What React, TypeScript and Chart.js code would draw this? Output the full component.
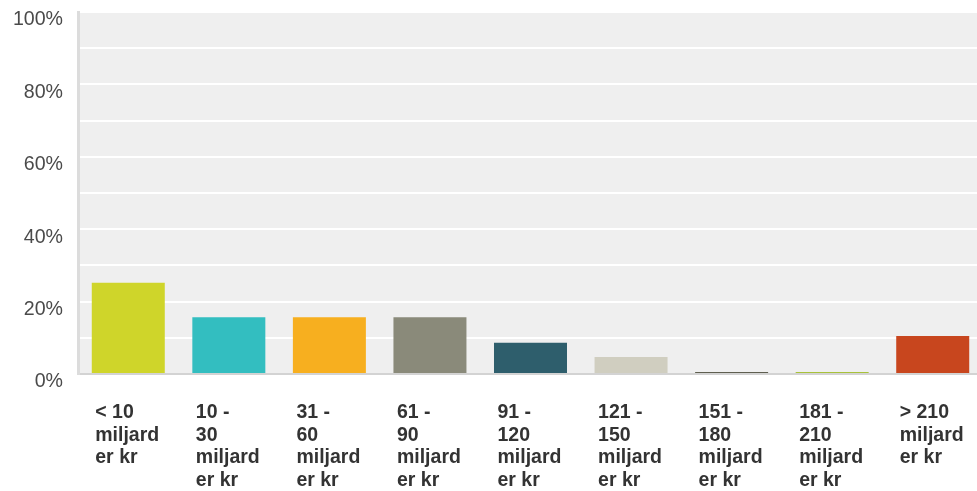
import { useEffect, useRef } from "react";
import { Chart, registerables } from "chart.js";

Chart.register(...registerables);

const categories: string[][] = [
  ["< 10", "miljard", "er kr"],
  ["10 -", "30", "miljard", "er kr"],
  ["31 -", "60", "miljard", "er kr"],
  ["61 -", "90", "miljard", "er kr"],
  ["91 -", "120", "miljard", "er kr"],
  ["121 -", "150", "miljard", "er kr"],
  ["151 -", "180", "miljard", "er kr"],
  ["181 -", "210", "miljard", "er kr"],
  ["> 210", "miljard", "er kr"],
];
const values = [25.2, 15.7, 15.7, 15.7, 8.6, 4.7, 0.55, 0.55, 10.5];
const barColors = [
  "#CFD52A",
  "#33BEC0",
  "#F7AF1F",
  "#8A8A7A",
  "#2E5E6C",
  "#D0CEC0",
  "#5F5F50",
  "#A8C23A",
  "#C8461E",
];
const yLabelEvery = 20;

const bgPlugin = {
  id: "plotBg",
  beforeDraw(chart: any) {
    const { ctx, chartArea: a } = chart;
    ctx.save();
    ctx.fillStyle = "#efefef";
    ctx.fillRect(a.left, a.top - 1, a.right - a.left, a.bottom - a.top + 1);
    ctx.restore();
  },
};

export default function App() {
  const ref = useRef<HTMLCanvasElement | null>(null);
  useEffect(() => {
    if (!ref.current) return;
    const chart = new Chart(ref.current, {
      type: "bar",
      data: {
        labels: categories,
        datasets: [
          {
            data: values,
            backgroundColor: barColors,
            barPercentage: 0.726,
            categoryPercentage: 1,
          },
        ],
      },
      options: {
        animation: false,
        responsive: true,
        maintainAspectRatio: false,
        layout: { padding: { top: 12, left: 0, right: 0, bottom: 0 } },
        plugins: { legend: { display: false }, tooltip: { enabled: false } },
        scales: {
          x: {
            grid: { display: false },
            border: { display: true, color: "#d3d3d3", width: 2 },
            ticks: {
              align: "start",
              labelOffset: -33,
              padding: 19,
              maxRotation: 0,
              autoSkip: false,
              color: "#333333",
              font: { family: "'Liberation Sans', Arial, sans-serif", size: 19.5, weight: "bold", lineHeight: 1.17 },
            },
            afterFit(s: any) {
              s.height = 117;
              s.paddingLeft = 0;
              s.paddingRight = 0;
            },
          },
          y: {
            min: 0,
            max: 100,
            grid: {
              color: (c: any) => (c.tick && c.tick.value === 0 ? "rgba(0,0,0,0)" : "#ffffff"),
              lineWidth: 2,
              drawTicks: false,
            },
            border: { display: true, color: "#dcdcdc", width: 3 },
            ticks: {
              stepSize: 10,
              labelOffset: 8,
              padding: 15,
              color: "#4a4a4a",
              font: { family: "'Liberation Sans', Arial, sans-serif", size: 19.6 },
              callback: (v: any) => (Number(v) % yLabelEvery === 0 ? v + "%" : ""),
            },
            afterFit(s: any) {
              s.width = 78;
              s.paddingTop = 0;
              s.paddingBottom = 0;
            },
          },
        },
      },
      plugins: [bgPlugin],
    });
    return () => chart.destroy();
  }, []);
  return (
    <div style={{ position: "absolute", left: 0, top: 0, width: 977, height: 491, overflow: "hidden" }}>
      <div style={{ position: "relative", width: 983, height: 491 }}>
        <canvas ref={ref} />
      </div>
    </div>
  );
}
